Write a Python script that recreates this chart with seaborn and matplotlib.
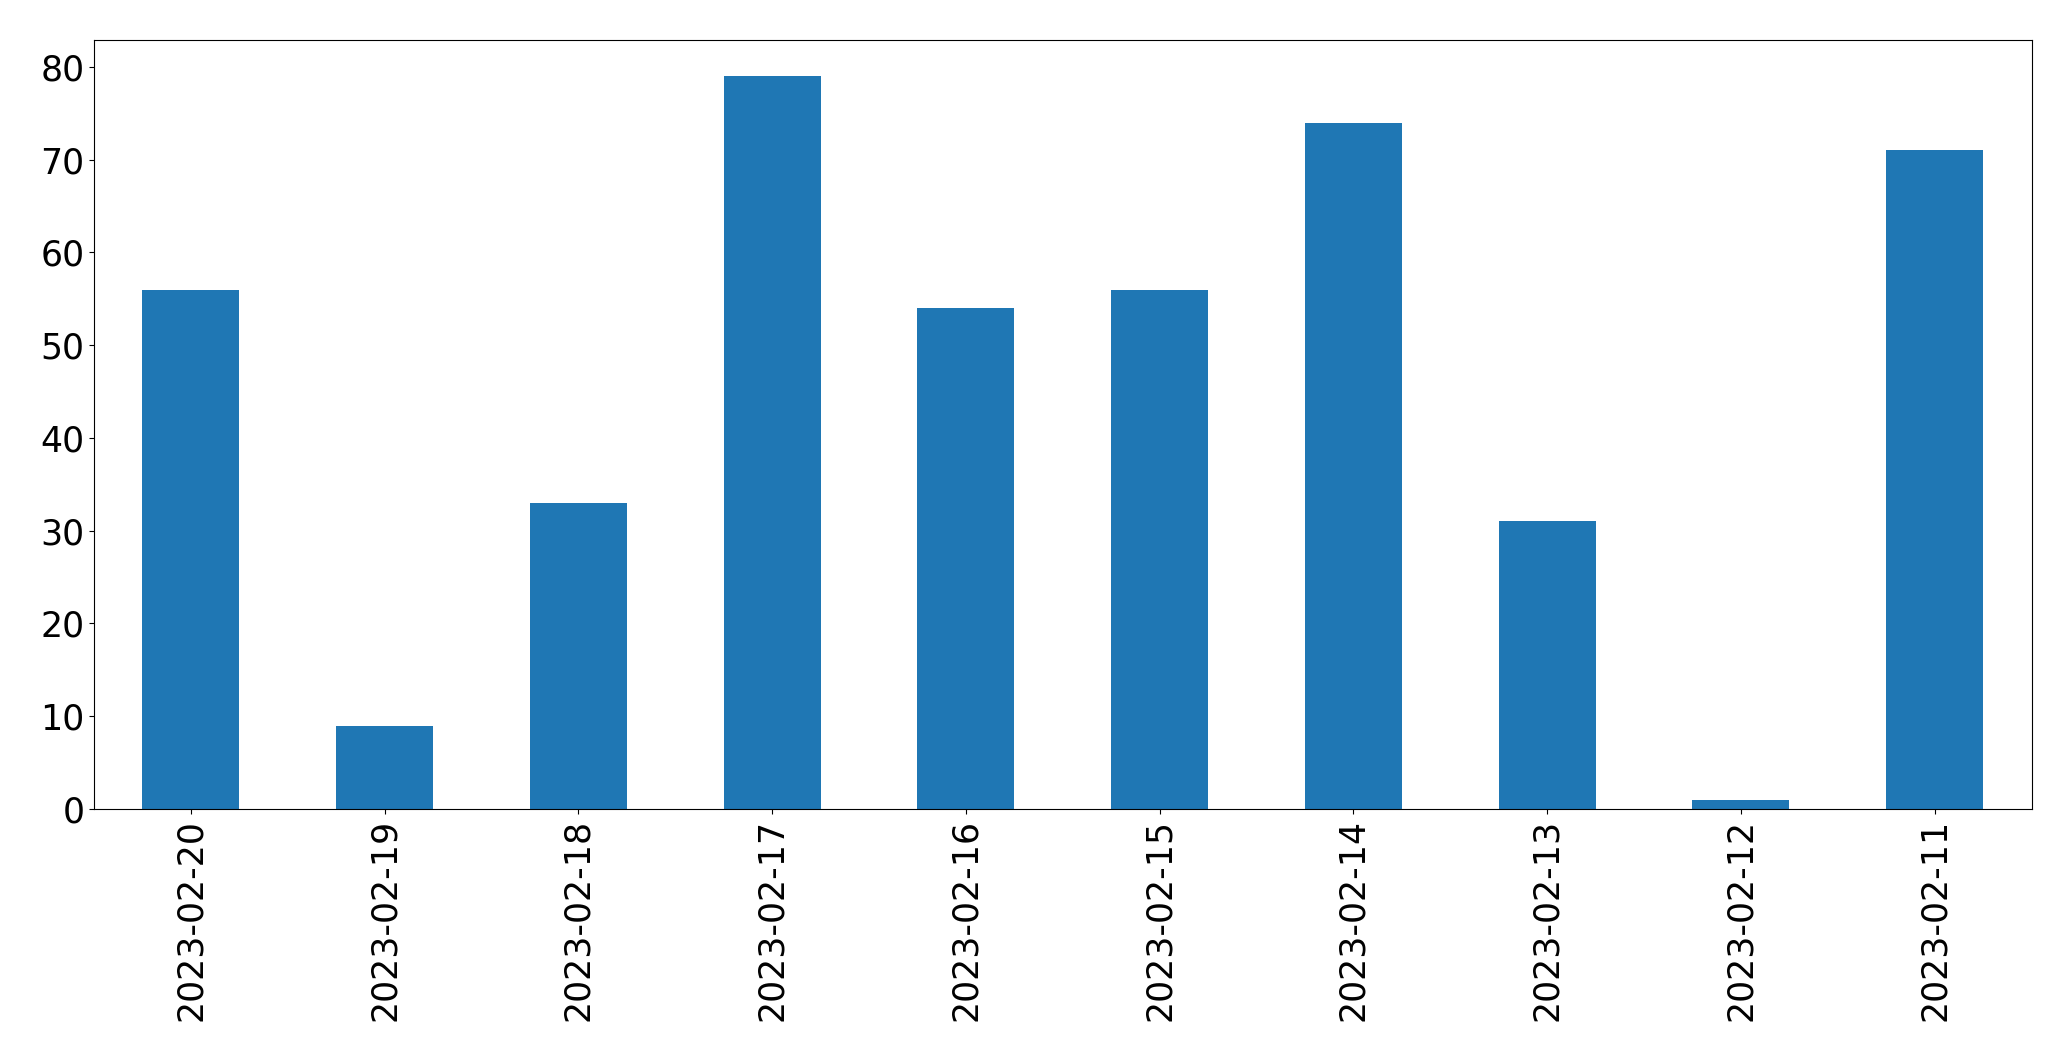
import matplotlib
matplotlib.use("Agg")
import matplotlib.pyplot as plt
import seaborn as sns
import pandas as pd

dates = ["2023-02-20", "2023-02-19", "2023-02-18", "2023-02-17", "2023-02-16",
         "2023-02-15", "2023-02-14", "2023-02-13", "2023-02-12", "2023-02-11"]
counts = [56, 9, 33, 79, 54, 56, 74, 31, 1, 71]

df = pd.DataFrame({"date": dates, "count": counts})

fig = plt.figure(figsize=(20.71, 10.61), dpi=100)
ax = fig.add_axes([94 / 2071, 1 - 809 / 1061, (2031.5 - 94) / 2071, (809 - 39.5) / 1061])
sns.barplot(data=df, x="date", y="count", order=dates, color="#1f77b4",
            saturation=1, width=0.5, ax=ax)
ax.set_xlim(-0.5, len(dates) - 0.5)
ax.set_ylim(0, max(counts) * 1.05)
ax.set_xlabel("")
ax.set_ylabel("")
ax.tick_params(axis="both", labelsize=25)
ax.tick_params(axis="x", labelrotation=90)
for s in ax.spines.values():
    s.set_visible(True)
    s.set_color("black")
fig.savefig("out.png", dpi=100)
